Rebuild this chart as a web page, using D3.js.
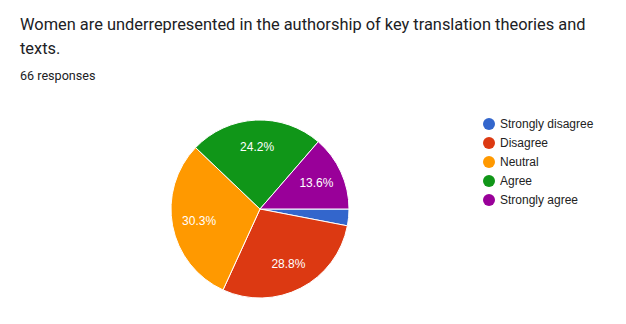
<!DOCTYPE html>
<html>
<head>
<meta charset="utf-8">
<script src="https://cdn.jsdelivr.net/npm/d3@7"></script>
<style>
  body { margin: 0; background: #fff; }
</style>
</head>
<body>
<svg id="pie_chart" width="626" height="324"></svg>
<script>
const categories = ["Strongly disagree", "Disagree", "Neutral", "Agree", "Strongly agree"];
const counts = [2, 19, 20, 16, 9];
const colors = ["#3366cc", "#dc3912", "#ff9900", "#109618", "#990099"];
const total = 66;

let svg = d3.select("#pie_chart");

svg.append("text").attr("x", 20).attr("y", 30)
  .attr("font-family", "Roboto, sans-serif").attr("font-size", 16.4).attr("fill", "#202124")
  .text("Women are underrepresented in the authorship of key translation theories and");
svg.append("text").attr("x", 20).attr("y", 54)
  .attr("font-family", "Roboto, sans-serif").attr("font-size", 16.4).attr("fill", "#202124")
  .text("texts.");
svg.append("text").attr("x", 20).attr("y", 80)
  .attr("font-family", "Roboto, sans-serif").attr("font-size", 12.6).attr("fill", "#202124")
  .text(total + " responses");

let data = categories.map((c, i) => ({name: c, votes: counts[i], color: colors[i]}));

let pie = d3.pie().value(d => d.votes).sort(null)
  .startAngle(Math.PI / 2).endAngle(Math.PI / 2 + 2 * Math.PI)(data);

let r = 89;
let arcMkr = d3.arc().innerRadius(0).outerRadius(r);
let lblArc = d3.arc().innerRadius(62).outerRadius(62);
let fmt = d3.format(".1%");

let g = svg.append("g").attr("transform", "translate(260, 209)");

g.selectAll("path").data(pie).enter().append("path")
  .attr("d", arcMkr).attr("fill", d => d.data.color)
  .attr("stroke", "#fff").attr("stroke-width", 1);

g.selectAll("text").data(pie.filter(d => d.data.votes / total > 0.05)).enter().append("text")
  .text(d => fmt(d.data.votes / total))
  .attr("x", d => lblArc.centroid(d)[0])
  .attr("y", d => lblArc.centroid(d)[1])
  .attr("dy", "0.35em")
  .attr("font-family", "Arial, 'Liberation Sans', sans-serif").attr("font-size", 12)
  .attr("fill", "#fff")
  .attr("text-anchor", "middle");

let lg = svg.append("g").attr("transform", "translate(489, 124)");
let items = lg.selectAll("g").data(data).enter().append("g")
  .attr("transform", (d, i) => `translate(0, ${i * 19})`);
items.append("circle").attr("r", 6).attr("fill", d => d.color);
items.append("text").attr("x", 11).attr("dy", "0.35em")
  .attr("font-family", "Arial, 'Liberation Sans', sans-serif").attr("font-size", 12)
  .attr("fill", "#222").text(d => d.name);
</script>
</body>
</html>
